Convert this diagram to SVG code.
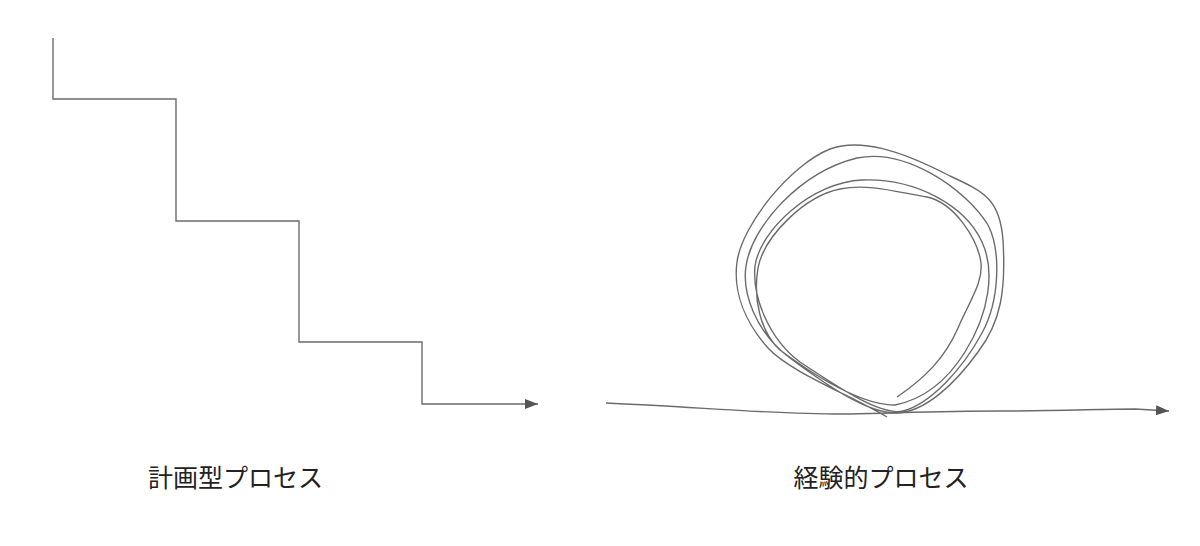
<svg xmlns="http://www.w3.org/2000/svg" width="1200" height="546" viewBox="0 0 1200 546">
<style>
.ln{fill:none;stroke:#6b6b6b;stroke-width:1.4;stroke-linejoin:miter}
.lbl{font-family:"Noto Sans CJK JP","Noto Sans CJK SC",sans-serif;font-size:25px;fill:#222;text-anchor:middle}
</style>
<defs>
<marker id="ah" markerWidth="14" markerHeight="10" refX="13" refY="5" orient="auto" markerUnits="userSpaceOnUse">
<path d="M0,0 L13,5 L0,10 Z" fill="#555"/>
</marker>
</defs>
<rect width="1200" height="546" fill="#fff"/>
<g id="connectors">
<path id="stairs" class="ln" d="M53,38 V99 H176 V221 H299 V342 H422 V404 H538" marker-end="url(#ah)"/>
<path id="flow" class="ln" d="M606,403 C700,407 780,415 850,414 C900,413 940,411 1000,411 C1060,411 1100,409 1135,409 L1169,411" marker-end="url(#ah)"/>
<path id="scribble" class="ln" d="M887,417 C850,395 790,372 768,348 C745,322 733,292 737,262 C742,225 790,165 830,149 C860,138 900,150 950,176 C985,192 1000,200 1003,240 C1006,290 1001,322 978,352 C955,384 925,412 897,413 C870,414 830,388 790,358 C755,332 742,292 746,266 C752,226 800,172 857,158 C905,148 965,188 988,225 C1001,250 1000,300 982,333 C962,370 930,404 903,411 C882,416 842,390 800,362 C770,340 752,298 755,266 C760,230 812,182 862,180 C915,178 965,205 982,242 C995,270 990,312 965,352 C945,384 920,400 895,405 C860,405 815,376 780,350 C760,332 753,298 758,268 C764,236 805,196 840,189 C870,183 900,193 927,197 C955,203 978,240 981,263 C983,283 970,300 958,328 C945,358 925,378 897,397"/>
</g>
<g id="node-planned"><text class="lbl" x="235.5" y="487">計画型プロセス</text></g>
<g id="node-empirical"><text class="lbl" x="881" y="487">経験的プロセス</text></g>
</svg>
